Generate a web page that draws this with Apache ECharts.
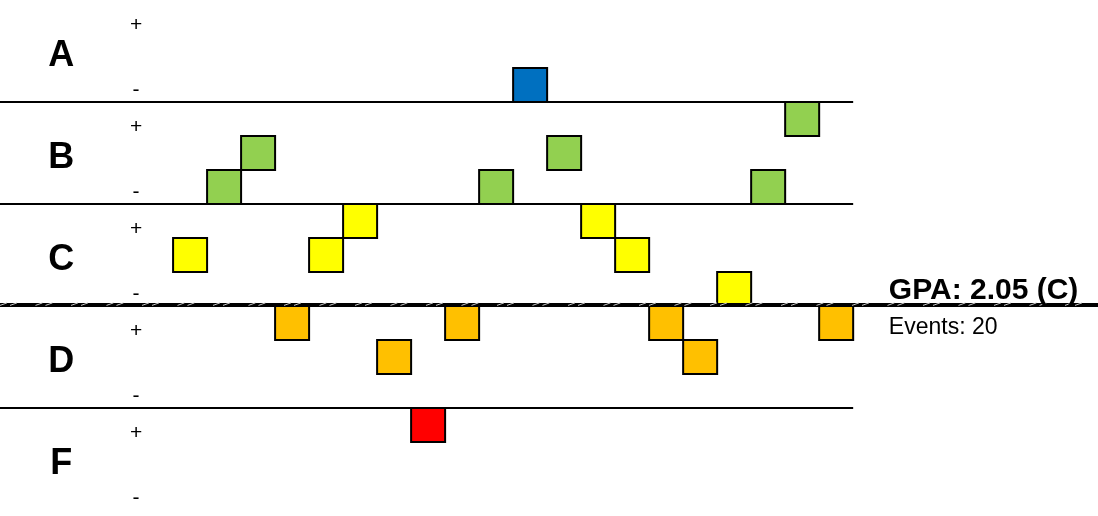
<!DOCTYPE html>
<html>
<head>
<meta charset="utf-8">
<script src="https://cdn.jsdelivr.net/npm/echarts@6/dist/echarts.min.js"></script>
<style>
html,body{margin:0;padding:0;background:#fff;}
#main{width:1098px;height:516px;}
</style>
</head>
<body>
<div id="main"></div>
<script>
// ---- data ----
const gradeBands = ['A', 'B', 'C', 'D', 'F'];
const events = ['C', 'B-', 'B', 'D+', 'C', 'C+', 'D', 'F+', 'D+', 'B-',
                'A-', 'B', 'C+', 'C', 'D+', 'D', 'C-', 'B-', 'B+', 'D+'];
const gpaValue = 2.05;
const gpaLetter = 'C';
const subLabels = ['+', '-'];

// ---- styles ----
const bandColors = { A: '#0070C0', B: '#92D050', C: '#FFFF00', D: '#FFC000', F: '#FF0000' };
const FONT = 'Arial, "Liberation Sans", Helvetica, sans-serif';
const X_MIN = -5.09, X_MAX = 27.2;

function bandBase(letter) { return gradeBands.length - 1 - gradeBands.indexOf(letter); }
function subIndex(mod) { return mod === '+' ? 2 : (mod === '-' ? 0 : 1); }

const squareData = events.map((g, i) => {
  const letter = g[0], mod = g.slice(1);
  const lo = bandBase(letter) + subIndex(mod) / 3;
  return [i, lo, lo + 1 / 3, letter];
});

// text items: [x, y, text, size, weight, align, baseline]
const textData = [];
gradeBands.forEach(l => {
  const b = bandBase(l);
  textData.push([-3.29, b + 0.455, l, 36, 'bold', 'center', 'middle']);
  textData.push([-1.09, b + 1 - 0.25, subLabels[0], 21, 'normal', 'center', 'middle']);
  textData.push([-1.09, b + 0.115, subLabels[1], 21, 'normal', 'center', 'middle']);
});

const separators = [1, 2, 3, 4];

const chart = echarts.init(document.getElementById('main'), null, { renderer: 'canvas' });
chart.setOption({
  animation: false,
  backgroundColor: '#ffffff',
  grid: { left: 0, right: 0, top: 0, bottom: 6 },
  xAxis: { type: 'value', min: X_MIN, max: X_MAX, show: false },
  yAxis: { type: 'value', min: 0, max: 5, show: false },
  series: [
    {
      type: 'custom',
      name: 'separators',
      data: separators.map(v => [v]),
      renderItem: (params, api) => {
        const p1 = api.coord([X_MIN, api.value(0)]);
        const p2 = api.coord([events.length, api.value(0)]);
        return { type: 'line', shape: { x1: p1[0], y1: p1[1], x2: p2[0], y2: p2[1] },
                 style: { stroke: '#000', lineWidth: 2 } };
      },
      z: 1
    },
    {
      type: 'custom',
      name: 'events',
      data: squareData,
      encode: { x: 0, y: [1, 2] },
      renderItem: (params, api) => {
        const i = api.value(0);
        const a = api.coord([i, api.value(2)]);
        const b = api.coord([i + 1, api.value(1)]);
        const letter = squareData[params.dataIndex][3];
        return { type: 'rect', shape: { x: a[0], y: a[1], width: b[0] - a[0], height: b[1] - a[1] },
                 style: { fill: bandColors[letter], stroke: '#000', lineWidth: 2 } };
      },
      z: 2
    },
    {
      type: 'custom',
      name: 'gpa',
      data: [[gpaValue]],
      renderItem: (params, api) => {
        const p1 = api.coord([X_MIN, api.value(0)]);
        const p2 = api.coord([X_MAX, api.value(0)]);
        const y = p1[1] + 4;
        const children = [{ type: 'line', shape: { x1: p1[0], y1: y, x2: p2[0], y2: y },
                            style: { stroke: '#000', lineWidth: 4 } }];
        for (let x = p1[0]; x < p2[0]; x += 35.5) {
          children.push({ type: 'line', shape: { x1: x, y1: y + 0.5, x2: x + 7, y2: y - 2 },
                          style: { stroke: '#c8c8c8', lineWidth: 1 } });
          children.push({ type: 'line', shape: { x1: x + 10, y1: y + 0.5, x2: x + 17, y2: y - 2 },
                          style: { stroke: '#c8c8c8', lineWidth: 1 } });
        }
        const tx = api.coord([21.05, api.value(0)]);
        children.push({ type: 'text', x: tx[0], y: y + 1,
          style: { text: 'GPA: ' + gpaValue.toFixed(2) + ' (' + gpaLetter + ')', fill: '#000',
                   font: 'bold 30px ' + FONT, align: 'left', verticalAlign: 'bottom' } });
        children.push({ type: 'text', x: tx[0], y: y + 11,
          style: { text: 'Events: ' + events.length, fill: '#000',
                   font: '23px ' + FONT, align: 'left', verticalAlign: 'top' } });
        return { type: 'group', children: children };
      },
      z: 3
    },
    {
      type: 'custom',
      name: 'labels',
      data: textData,
      renderItem: (params, api) => {
        const d = textData[params.dataIndex];
        const p = api.coord([d[0], d[1]]);
        return { type: 'text', x: p[0], y: p[1],
          style: { text: d[2], fill: '#000', font: d[4] + ' ' + d[3] + 'px ' + FONT,
                   align: d[5], verticalAlign: d[6] } };
      },
      z: 5
    }
  ]
});
</script>
</body>
</html>
